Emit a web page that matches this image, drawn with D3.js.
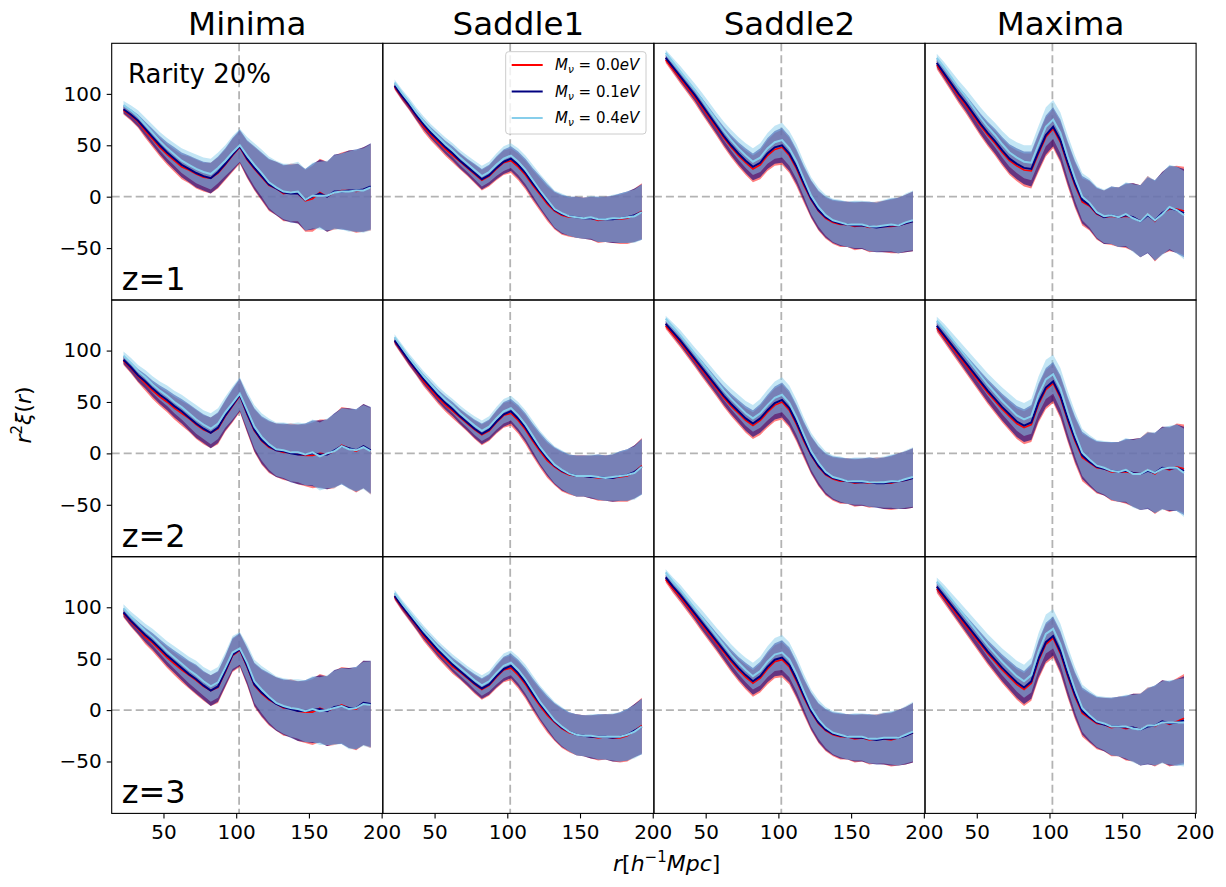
<!DOCTYPE html>
<html>
<head>
<meta charset="utf-8">
<script src="https://cdn.jsdelivr.net/npm/d3@7"></script>
<style>
  body { margin: 0; background: #fff; }
  text { font-family: "DejaVu Sans", sans-serif; fill: #000; }
</style>
</head>
<body>
<svg id="chart" width="1226" height="887"></svg>
<script>
// separation bins r [h^-1 Mpc]
const radii = [22.5, 27.5, 32.5, 37.5, 42.5, 47.5, 52.5, 57.5, 62.5, 67.5, 72.5, 77.5, 82.5, 87.5, 92.5, 97.5, 102.5, 107.5,
  112.5, 117.5, 122.5, 127.5, 132.5, 137.5, 142.5, 147.5, 152.5, 157.5, 162.5, 167.5, 172.5, 177.5, 182.5, 187.5, 192.5];

const columns = ["Minima", "Saddle1", "Saddle2", "Maxima"];
const redshifts = ["z=1", "z=2", "z=3"];
const masses = ["0.0", "0.1", "0.4"];
const xTicks = [50, 100, 150, 200];
const yTicks = [-50, 0, 50, 100];

// mean r^2 xi(r) for M_nu = 0.1 eV
const minimaZ1 = [85, 80, 74, 66, 58, 50, 43, 37, 31, 27, 23, 20, 18, 24, 32, 41, 49, 37, 28, 20, 12, 8, 4, 3, 3, -3, 0, 3, 0, 5, 5, 6, 6, 7, 10];
const saddle1Z1 = [108, 98, 89, 79, 70, 62, 55, 48, 42, 35, 29, 23, 17, 21, 28, 34, 37, 31, 23, 13, 4, -5, -13, -17, -19, -20, -21, -21, -22, -22, -22, -21, -20, -18, -15];
const saddle2Z1 = [135, 126, 117, 108, 99, 89, 79, 69, 59, 50, 42, 35, 29, 33, 42, 48, 50, 42, 29, 13, -2, -13, -20, -24, -26, -27, -28, -28, -29, -30, -29, -28, -28, -26, -24];
const maximaZ1 = [130, 120, 110, 100, 91, 81, 71, 62, 54, 45, 37, 32, 28, 27, 44, 60, 68, 55, 33, 13, -3, -8, -16, -20, -18, -20, -18, -20, -24, -18, -23, -16, -11, -13, -16];

const minimaZ2 = [91, 84, 76, 70, 63, 57, 52, 46, 41, 35, 29, 24, 20, 25, 37, 47, 57, 39, 23, 13, 7, 3, 2, 0, -1, -1, 0, -1, -1, 3, 7, 5, 3, 7, 3];
const saddle1Z2 = [110, 100, 90, 81, 72, 64, 56, 49, 43, 36, 30, 24, 19, 23, 31, 38, 41, 34, 25, 14, 4, -5, -12, -17, -20, -22, -22, -23, -23, -24, -24, -22, -21, -18, -13];
const saddle2Z2 = [126, 118, 110, 101, 92, 83, 74, 65, 56, 48, 41, 34, 29, 34, 42, 49, 52, 44, 30, 14, -1, -12, -20, -24, -26, -27, -28, -28, -28, -29, -29, -28, -27, -26, -24];
const maximaZ2 = [124, 115, 106, 97, 88, 79, 70, 61, 53, 45, 38, 31, 27, 30, 50, 64, 70, 56, 34, 14, -2, -8, -13, -15, -17, -18, -17, -19, -20, -17, -19, -14, -15, -14, -17];

const minimaZ3 = [95, 87, 80, 73, 67, 60, 53, 47, 41, 35, 30, 24, 19, 23, 38, 54, 59, 43, 25, 17, 11, 6, 3, 1, -1, -1, 0, 1, -1, 3, 4, 2, 2, 7, 6];
const saddle1Z3 = [111, 101, 92, 83, 74, 66, 58, 51, 44, 38, 32, 26, 21, 25, 33, 40, 43, 36, 27, 16, 6, -3, -11, -17, -21, -24, -25, -26, -26, -26, -27, -26, -24, -20, -16];
const saddle2Z3 = [129, 120, 112, 103, 94, 85, 76, 67, 58, 49, 41, 34, 28, 33, 42, 49, 51, 44, 30, 14, -1, -12, -19, -23, -25, -26, -27, -27, -28, -29, -28, -28, -27, -25, -22];
const maximaZ3 = [120, 111, 102, 93, 84, 75, 66, 57, 49, 41, 34, 27, 22, 28, 50, 66, 72, 57, 35, 15, -1, -7, -12, -14, -16, -16, -17, -17, -19, -16, -15, -11, -13, -12, -10];

// how far the 0.0 eV and 0.4 eV means sit from the 0.1 eV one
const redMinima = [-1, -1, -1, -2, -2, -2, -2, -2, -2, -1, -1, -1, 0, -1, -1, -1, -1, -1, -1, -1, -1, 0, -1, 1, 0, -1, -2, 1, 0, -1, 1, 0, -1, 0, -1];
const redSaddle1 = [-1, -1, -1, -1, -2, -2, -2, -2, -2, -1, -1, -1, -1, -1, -1, -1, -2, -2, -2, -2, -2, -2, -1, -1, -1, 0, 0, 0, -1, 0, 0, -1, -1, 0, 1];
const redSaddle2 = [-2, -2, -2, -2, -2, -2, -2, -2, -2, -2, -2, -2, -2, -2, -2, -2, -2, -2, -2, -2, -1, -1, -1, -1, -1, 0, -1, 0, -1, 1, 0, -1, 0, 0, 0];
const redMaxima = [-2, -2, -2, -2, -2, -2, -2, -2, -2, -2, -2, -2, -2, -2, -2, -2, -2, -2, -2, -2, -2, -1, -1, 0, -1, 0, -1, 0, 0, 1, -1, 0, -1, 1, 2];

const skyMinima = [4, 4, 4, 4, 4, 4, 4, 4, 4, 4, 4, 4, 4, 4, 3, 2, 1, 3, 3, 3, 2, 1, 1, 1, 2, 0, 1, -2, 1, -1, 0, -1, 0, -1, -1];
const skySaddle1 = [3, 3, 3, 3, 3, 3, 3, 3, 3, 3, 3, 3, 3, 3, 3, 3, 3, 3, 3, 3, 2, 2, 1, 1, 0, 0, 0, 1, 0, 0, 1, 0, 0, -1, 0];
const skySaddle2 = [5, 5, 5, 5, 5, 5, 5, 5, 5, 5, 5, 5, 5, 5, 5, 5, 5, 5, 5, 4, 3, 3, 2, 1, 1, 0, 1, 1, 0, 1, 1, 1, 0, 1, 1];
const skyMaxima = [5, 6, 6, 6, 6, 6, 6, 6, 6, 6, 6, 6, 6, 6, 7, 8, 7, 7, 6, 5, 3, 2, 1, 1, 0, 0, 1, -1, 0, 1, 0, -1, 1, 0, -2];

// spread of the shaded band
const sigmaMinima = [4, 5, 6, 7, 8, 9, 10, 11, 12, 13, 14, 14, 15, 15, 15, 16, 16, 18, 21, 23, 25, 26, 27, 28, 29, 30, 32, 33, 34, 36, 37, 39, 40, 41, 42];
const sigmaSaddle1 = [3, 3.5, 4, 4.5, 5, 5.5, 6, 6.5, 7, 7.5, 8, 9, 10, 10, 11, 12, 12, 13, 14, 15, 16, 17, 18, 19, 19, 20, 20, 21, 22, 22, 23, 24, 25, 26, 27];
const sigmaSaddle2 = [3, 4, 5, 5.5, 6, 7, 7.5, 8, 9, 10, 11, 12, 13, 14, 15, 16, 17, 17, 17, 17, 18, 19, 20, 21, 22, 22, 23, 23, 24, 24, 25, 26, 27, 28, 29];
const sigmaMaxima = [4, 5, 6, 7, 8, 9, 10, 11, 12, 13, 14, 15, 16, 17, 18, 19, 19, 20, 21, 22, 23, 24, 25, 26, 28, 29, 31, 33, 35, 37, 39, 40, 41, 42, 43];

const means = [
  [minimaZ1, saddle1Z1, saddle2Z1, maximaZ1],
  [minimaZ2, saddle1Z2, saddle2Z2, maximaZ2],
  [minimaZ3, saddle1Z3, saddle2Z3, maximaZ3]
];
const redOffsets = [redMinima, redSaddle1, redSaddle2, redMaxima];
const skyOffsets = [skyMinima, skySaddle1, skySaddle2, skyMaxima];
const sigmas = [sigmaMinima, sigmaSaddle1, sigmaSaddle2, sigmaMaxima];

const colors = ["red", "navy", "skyblue"];
const bandOpacity = [0.5, 0.6, 0.5];
const left0 = 111.7, top0 = 43.3, panelW = 271.1, panelH = 256.7;
const rDomain = [14.4, 200.8], yDomain = [-100.5, 149.2];

const svg = d3.select("#chart");
const defs = svg.append("defs");

function drawPanel(row, col) {
  const x0 = left0 + col * panelW;
  const y0 = top0 + row * panelH;
  const x = d3.scaleLinear().domain(rDomain).range([x0, x0 + panelW]);
  const y = d3.scaleLinear().domain(yDomain).range([y0 + panelH, y0]);

  const clipId = `clip-${row}-${col}`;
  defs.append("clipPath").attr("id", clipId)
    .append("rect").attr("x", x0).attr("y", y0).attr("width", panelW).attr("height", panelH);

  const g = svg.append("g").attr("clip-path", `url(#${clipId})`);

  // dashed guides at zero and at the BAO peak
  g.append("line")
    .attr("x1", x0).attr("x2", x0 + panelW)
    .attr("y1", y(0)).attr("y2", y(0))
    .attr("stroke", "#b3b3b3").attr("stroke-width", 1.8).attr("stroke-dasharray", "8,4");
  g.append("line")
    .attr("x1", x(102)).attr("x2", x(102))
    .attr("y1", y0).attr("y2", y0 + panelH)
    .attr("stroke", "#b3b3b3").attr("stroke-width", 1.8).attr("stroke-dasharray", "8,4");

  const mid = means[row][col];
  const sig = sigmas[col];
  const series = [
    mid.map((v, i) => v + redOffsets[col][i]),
    mid,
    mid.map((v, i) => v + skyOffsets[col][i])
  ];

  const area = d3.area()
    .x((d, i) => x(radii[i]))
    .y0((d, i) => y(d - sig[i]))
    .y1((d, i) => y(d + sig[i]));
  const line = d3.line()
    .x((d, i) => x(radii[i]))
    .y(d => y(d));

  series.forEach((s, k) => {
    g.append("path").datum(s)
      .attr("d", area)
      .attr("fill", colors[k])
      .attr("fill-opacity", bandOpacity[k]);
  });
  series.forEach((s, k) => {
    g.append("path").datum(s)
      .attr("d", line)
      .attr("fill", "none")
      .attr("stroke", colors[k])
      .attr("stroke-width", k == 0 ? 1.6 : 2);
  });

  // frame
  svg.append("rect")
    .attr("x", x0).attr("y", y0).attr("width", panelW).attr("height", panelH)
    .attr("fill", "none").attr("stroke", "#000").attr("stroke-width", 1.1);

  if (col == 0) {
    const ax = svg.append("g").attr("transform", `translate(${x0},0)`)
      .call(d3.axisLeft(y).tickValues(yTicks).tickSize(5).tickPadding(5));
    ax.select(".domain").remove();
    ax.selectAll("text").attr("font-size", 20).attr("font-family", "DejaVu Sans");
    ax.selectAll("line").attr("stroke-width", 1.1);

    svg.append("text")
      .attr("x", x0 + 10).attr("y", y0 + panelH - 10)
      .attr("font-size", 32)
      .text(redshifts[row]);
  }
  if (row == 2) {
    const ax = svg.append("g").attr("transform", `translate(0,${y0 + panelH})`)
      .call(d3.axisBottom(x).tickValues(xTicks).tickSize(5).tickPadding(6));
    ax.select(".domain").remove();
    ax.selectAll("text").attr("font-size", 20).attr("font-family", "DejaVu Sans");
    ax.selectAll("line").attr("stroke-width", 1.1);
  }
  if (row == 0) {
    svg.append("text")
      .attr("x", x0 + panelW / 2).attr("y", 35)
      .attr("text-anchor", "middle")
      .attr("font-size", 32.5)
      .text(columns[col]);
  }
}

for (let row = 0; row < 3; row++) {
  for (let col = 0; col < 4; col++) {
    drawPanel(row, col);
  }
}

svg.append("text")
  .attr("x", 128).attr("y", 83)
  .attr("font-size", 26)
  .text("Rarity 20%");

// legend inside Saddle1, z=1
const legend = svg.append("g");
legend.append("rect")
  .attr("x", 505.7).attr("y", 51.7).attr("width", 140.3).attr("height", 82.3)
  .attr("rx", 3).attr("fill", "#fff").attr("fill-opacity", 0.8)
  .attr("stroke", "#cccccc").attr("stroke-width", 1);

masses.forEach((m, k) => {
  const ly = 65 + k * 26.5;
  legend.append("line")
    .attr("x1", 511.7).attr("x2", 542.7).attr("y1", ly).attr("y2", ly)
    .attr("stroke", colors[k]).attr("stroke-width", 2);
  const t = legend.append("text")
    .attr("x", 555).attr("y", ly + 5)
    .attr("font-size", 15);
  t.append("tspan").attr("font-style", "italic").text("M");
  t.append("tspan").attr("font-style", "italic").attr("font-size", 10.5).attr("dy", 3).text("ν");
  t.append("tspan").attr("dy", -3).text(" = " + m);
  t.append("tspan").attr("font-style", "italic").text("eV");
});

// axis titles, placed like figure text (left-anchored at the figure middle)
const yl = svg.append("text")
  .attr("transform", "translate(31,443.5) rotate(-90)")
  .attr("font-size", 22);
yl.append("tspan").attr("font-style", "italic").text("r");
yl.append("tspan").attr("font-size", 15).attr("dy", -9).text("2");
yl.append("tspan").attr("font-style", "italic").attr("dy", 9).text("ξ");
yl.append("tspan").text("(");
yl.append("tspan").attr("font-style", "italic").text("r");
yl.append("tspan").text(")");

const xl = svg.append("text")
  .attr("x", 613).attr("y", 871)
  .attr("font-size", 22);
xl.append("tspan").attr("font-style", "italic").text("r");
xl.append("tspan").text("[");
xl.append("tspan").attr("font-style", "italic").text("h");
xl.append("tspan").attr("font-size", 15).attr("dy", -9).text("−1");
xl.append("tspan").attr("font-style", "italic").attr("dy", 9).text("Mpc");
xl.append("tspan").text("]");
</script>
</body>
</html>
